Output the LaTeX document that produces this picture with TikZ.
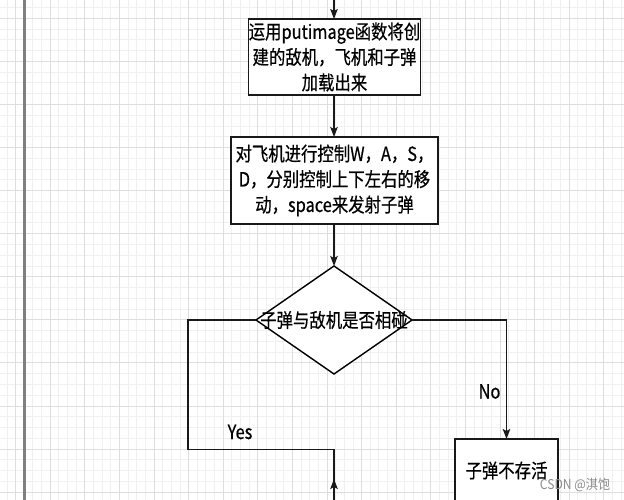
\documentclass[tikz,border=0pt]{standalone}
\usepackage{fontspec}
\usetikzlibrary{shapes.geometric,arrows.meta}
\newfontfamily\cjk[FakeStretch=0.84,FakeBold=0.5]{Noto Sans CJK SC}
\newfontfamily\wmfont[FakeStretch=0.9]{Noto Sans CJK SC}
\begin{document}
\begin{tikzpicture}[x=1pt,y=-1pt,
  gminor/.style={draw=black!6,line width=0.9pt},
  gmajor/.style={draw=black!13,line width=0.9pt},
  txt/.style={font=\cjk\fontsize{19.5}{25.5}\selectfont,text=black},
  procbox/.style={draw=black!90,line width=1.4pt,fill=white,rectangle,inner sep=0pt,outer sep=0pt,align=center,txt},
  decision/.style={draw=black,line width=1.4pt,fill=white,diamond,inner sep=0pt,outer sep=0pt,minimum width=156pt,minimum height=108pt},
  conn/.style={draw=black!90,line width=1.3pt},
  arr/.style={conn,-{Stealth[length=10pt,width=7.5pt,inset=2pt]}}
]
\useasboundingbox (0,0) rectangle (624,500);
\fill[white] (0,0) rectangle (624,500);
% grid
\foreach \i in {0,...,71} \draw[gminor] ({6.95+8.65*\i},0) -- ({6.95+8.65*\i},500);
\foreach \i in {0,...,45} \draw[gminor] (0,{7.53+10.77*\i}) -- (624,{7.53+10.77*\i});
\foreach \i in {0,...,17} \draw[gmajor] ({15.6+34.6*\i},0) -- ({15.6+34.6*\i},500);
\foreach \i in {0,...,11} \draw[gmajor] (0,{18.3+43.08*\i}) -- (624,{18.3+43.08*\i});
% left border line
\coordinate (lt) at (24.5,0);
\coordinate (lb) at (24.5,500);
\draw[draw=black!50,line width=2.2pt] (lt) -- (lb);

% nodes
\node[procbox,minimum width=172pt,minimum height=76pt] (b1) at (334.5,57) {运用putimage函数将创\\建的敌机，飞机和子弹\\加载出来};
\node[procbox,minimum width=207pt,minimum height=87pt] (b2) at (334.5,180.5) {对飞机进行控制W，A，S，\\D，分别控制上下左右的移\\动，space来发射子弹};
\node[decision] (d) at (334,320) {};
\node[txt] (dt) at (d.center) {子弹与敌机是否相碰};
\node[procbox,minimum width=103pt,minimum height=63pt] (b3) at (506.5,470.5) {子弹不存活};

% connectors
\coordinate (top) at (334,0);
\draw[arr] (top) -- (top |- b1.north);
\draw[arr] (b1.south -| top) -- (b2.north -| top);
\draw[arr] (b2.south -| top) -- (d.north);
\coordinate (ycorner) at (188,449.5);
\coordinate (yend) at (334,449.5);
\coordinate (bot) at (334,500);
\coordinate (uptip) at (334,479);
\draw[conn] (d.west) -| (ycorner) -- (yend) -- (bot);
\draw[arr] (bot) -- (uptip);
\draw[arr] (d.east) -| (b3.north);

% labels
\node[txt] (no) at (489.5,391.5) {No};
\node[txt] (yes) at (240,432) {Yes};
\node[font=\wmfont\fontsize{13.5}{14}\selectfont,text=black!45] (wm) at (575,485) {CSDN @淇饱};
\end{tikzpicture}
\end{document}
